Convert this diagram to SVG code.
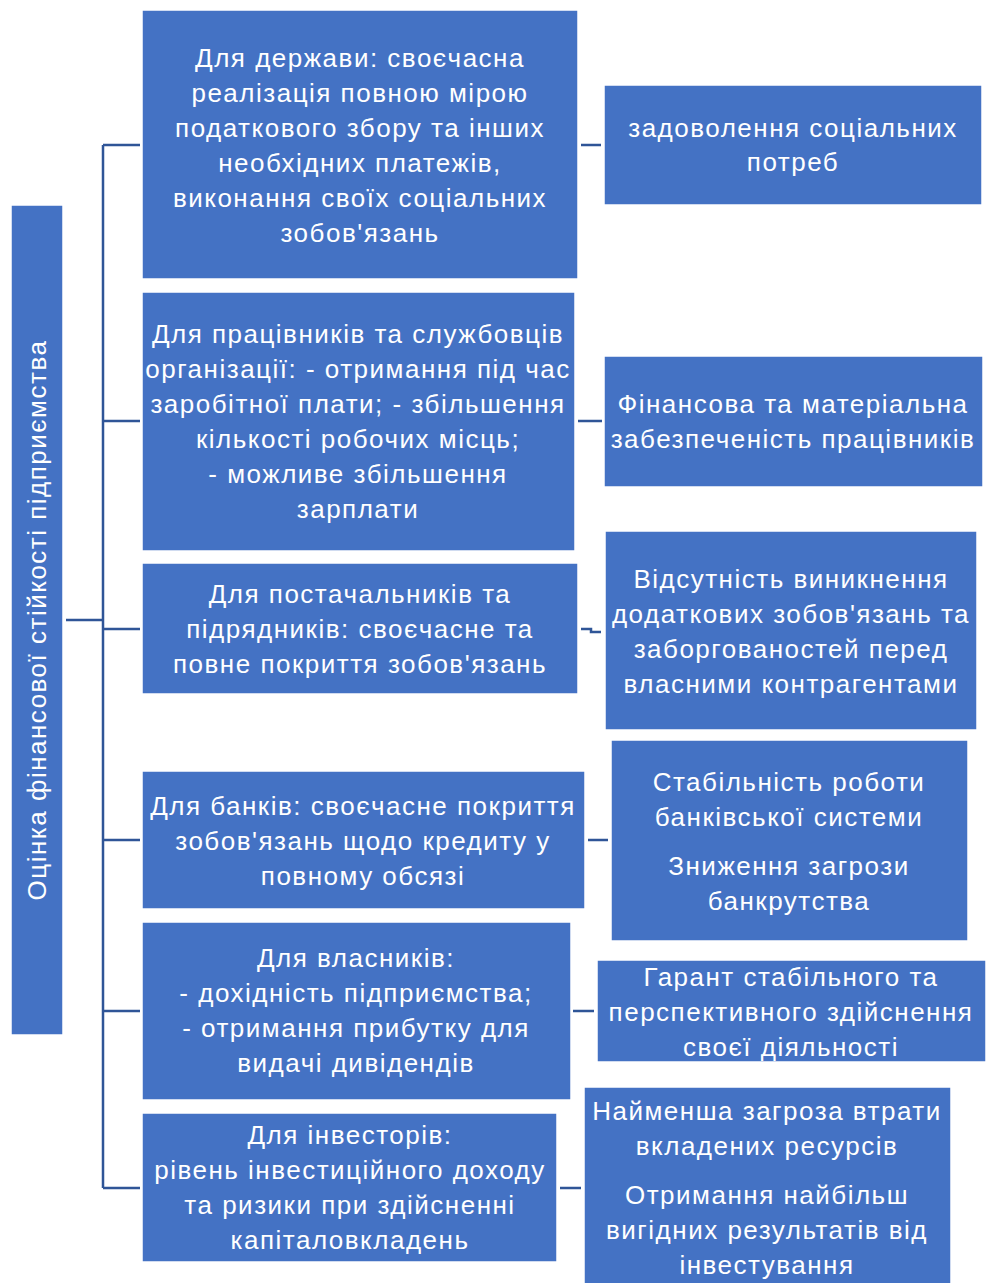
<svg xmlns="http://www.w3.org/2000/svg" width="986" height="1283" viewBox="0 0 986 1283">
<style>
.box{fill:#4472C4;stroke:#ffffff;stroke-width:1.5}
.t{font-family:"Liberation Sans",Arial,sans-serif;font-size:26px;letter-spacing:1.5px;fill:#ffffff;text-anchor:middle}
.c{fill:none;stroke:#2F5597;stroke-width:2.5}
</style>
<rect width="986" height="1283" fill="#ffffff"/>
<g id="connectors">
<path class="c" d="M66 620H103M103 145V1188M103 145H140M103 421H140M103 629H140M103 840H140M103 1011H140M103 1188H140"/>
<path class="c" d="M581 145H601M578 421H602M581 629H591V632H601M588 840H608M573 1011H594M560 1188H581"/>
</g>
<g id="root">
<rect class="box" x="11" y="205" width="52" height="830"/>
<text class="t" transform="translate(46 620) rotate(-90)" x="0" y="0">Оцінка фінансової стійкості підприємства</text>
</g>
<g id="l1">
<rect class="box" x="142" y="10" width="436" height="269"/>
<text class="t" x="360"><tspan x="360" y="67">Для держави: своєчасна</tspan><tspan x="360" y="102">реалізація повною мірою</tspan><tspan x="360" y="137">податкового збору та інших</tspan><tspan x="360" y="172">необхідних платежів,</tspan><tspan x="360" y="207">виконання своїх соціальних</tspan><tspan x="360" y="242">зобов'язань</tspan></text>
</g>
<g id="l2">
<rect class="box" x="142" y="292" width="433" height="259"/>
<text class="t"><tspan x="358" y="343">Для працівників та службовців</tspan><tspan x="358" y="378">організації: - отримання під час</tspan><tspan x="358" y="413">заробітної плати; - збільшення</tspan><tspan x="358" y="448">кількості робочих місць;</tspan><tspan x="358" y="483">- можливе збільшення</tspan><tspan x="358" y="518">зарплати</tspan></text>
</g>
<g id="l3">
<rect class="box" x="142" y="563" width="436" height="131"/>
<text class="t"><tspan x="360" y="603">Для постачальників та</tspan><tspan x="360" y="638">підрядників: своєчасне та</tspan><tspan x="360" y="673">повне покриття зобов'язань</tspan></text>
</g>
<g id="l4">
<rect class="box" x="142" y="771" width="443" height="138"/>
<text class="t"><tspan x="363" y="815">Для банків: своєчасне покриття</tspan><tspan x="363" y="850">зобов'язань щодо кредиту у</tspan><tspan x="363" y="885">повному обсязі</tspan></text>
</g>
<g id="l5">
<rect class="box" x="142" y="922" width="429" height="178"/>
<text class="t"><tspan x="356" y="967">Для власників:</tspan><tspan x="356" y="1002">- дохідність підприємства;</tspan><tspan x="356" y="1037">- отримання прибутку для</tspan><tspan x="356" y="1072">видачі дивідендів</tspan></text>
</g>
<g id="l6">
<rect class="box" x="142" y="1113" width="415" height="149"/>
<text class="t"><tspan x="350" y="1144">Для інвесторів:</tspan><tspan x="350" y="1179">рівень інвестиційного доходу</tspan><tspan x="350" y="1214">та ризики при здійсненні</tspan><tspan x="350" y="1249">капіталовкладень</tspan></text>
</g>
<g id="r1">
<rect class="box" x="604" y="85" width="378" height="120"/>
<text class="t"><tspan x="793" y="137">задоволення соціальних</tspan><tspan x="793" y="171">потреб</tspan></text>
</g>
<g id="r2">
<rect class="box" x="604" y="356" width="379" height="131"/>
<text class="t"><tspan x="793" y="413">Фінансова та матеріальна</tspan><tspan x="793" y="448">забезпеченість працівників</tspan></text>
</g>
<g id="r3">
<rect class="box" x="605" y="531" width="372" height="199"/>
<text class="t"><tspan x="791" y="588">Відсутність виникнення</tspan><tspan x="791" y="623">додаткових зобов'язань та</tspan><tspan x="791" y="658">заборгованостей перед</tspan><tspan x="791" y="693">власними контрагентами</tspan></text>
</g>
<g id="r4">
<rect class="box" x="611" y="740" width="357" height="201"/>
<text class="t"><tspan x="789" y="791">Стабільність роботи</tspan><tspan x="789" y="826">банківської системи</tspan><tspan x="789" y="875">Зниження загрози</tspan><tspan x="789" y="910">банкрутства</tspan></text>
</g>
<g id="r5">
<rect class="box" x="597" y="960" width="389" height="102"/>
<text class="t"><tspan x="791" y="986">Гарант стабільного та</tspan><tspan x="791" y="1021">перспективного здійснення</tspan><tspan x="791" y="1056">своєї діяльності</tspan></text>
</g>
<g id="r6">
<rect class="box" x="584" y="1087" width="367" height="200"/>
<text class="t"><tspan x="767" y="1120">Найменша загроза втрати</tspan><tspan x="767" y="1155">вкладених ресурсів</tspan><tspan x="767" y="1204">Отримання найбільш</tspan><tspan x="767" y="1239">вигідних результатів від</tspan><tspan x="767" y="1274">інвестування</tspan></text>
</g>
</svg>
